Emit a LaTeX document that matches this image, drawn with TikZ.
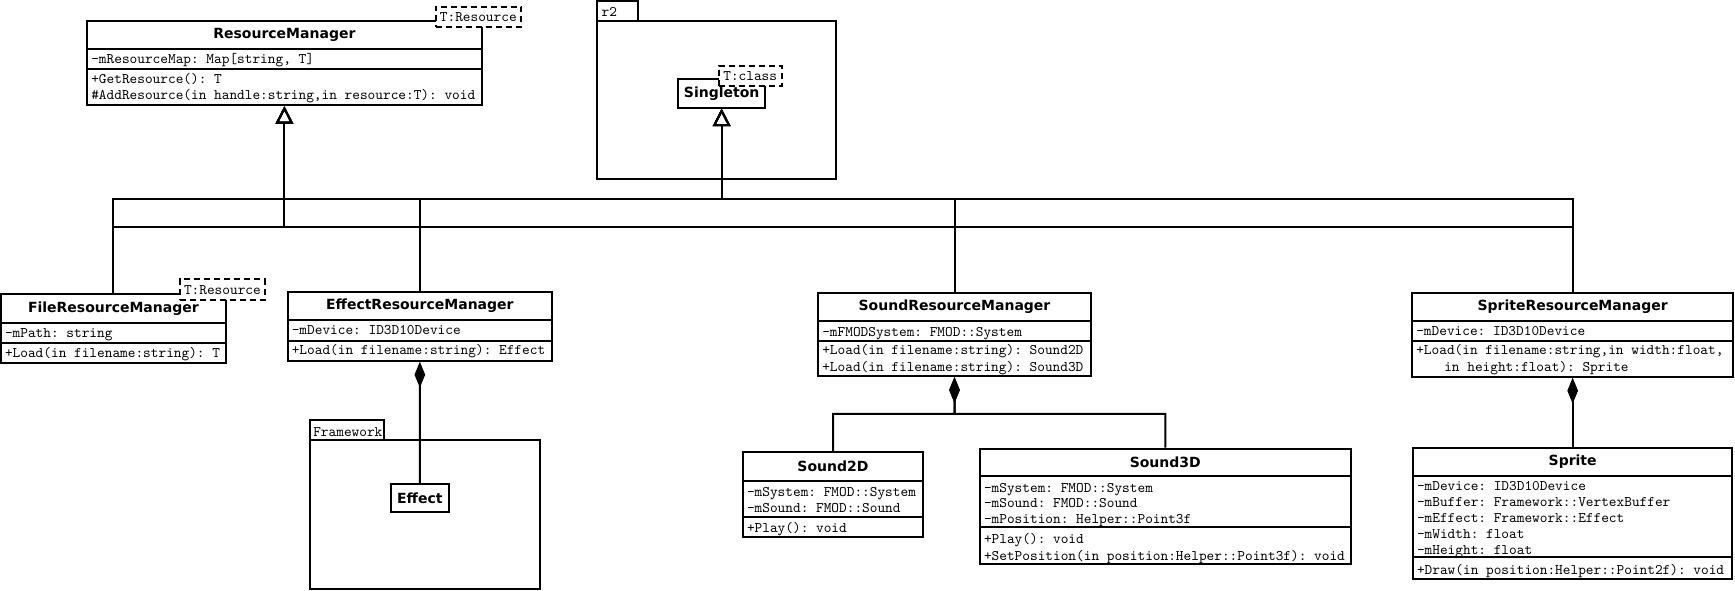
\documentclass[tikz,border=0pt]{standalone}
\usepackage{fontspec}
\usetikzlibrary{arrows.meta,fit}
\newfontfamily\titlefont{DejaVu Sans}
\setmonofont{Latin Modern Mono}
\begin{document}
\begin{tikzpicture}[x=0.75pt,y=-0.75pt,line width=1.5pt,
  cls/.style={draw,line width=1.5pt,inner sep=0pt,fill=white},
  pkg/.style={draw,line width=1.5pt,inner sep=0pt},
  ttl/.style={font={\titlefont\bfseries\fontsize{10.5}{12}\selectfont},inner sep=0pt},
  mono/.style={font={\ttfamily\fontsize{10.97}{12}\selectfont},inner sep=0pt,anchor=base west},
  tpl/.style={draw,dash pattern=on 4.5pt off 3pt,fill=white,line width=1.5pt,inner sep=0pt},
  tpltxt/.style={font={\ttfamily\fontsize{10.97}{12}\selectfont},inner sep=0pt},
  gen/.style={-{Triangle[open,length=13pt,width=13pt]},line width=1.5pt},
  comp/.style={{Diamond[length=19.5pt,width=8pt]}-,line width=1.5pt},
  sep/.style={line width=1.5pt}]
\useasboundingbox (0,0) rectangle (1735,591);

% ---------- packages ----------
\node[pkg,fit={(597.3,1)(637.7,20.7)}] (r2tab) {};
\node[pkg,fit={(597.3,20.7)(835.7,178.7)}] (r2) {};
\node[mono] (r2lbl) at (600.7,16.5) {r2};

\node[pkg,fit={(310,420)(384,440)}] (fwtab) {};
\node[pkg,fit={(310,440)(540,589.3)}] (fw) {};
\node[mono] (fwlbl) at (312.3,436) {Framework};

% ---------- ResourceManager ----------
\node[cls,fit={(87.3,21)(481.5,105.3)}] (rm) {};
\draw[sep] (87.3,49) -- (481.5,49);
\draw[sep] (87.3,69.3) -- (481.5,69.3);
\node[ttl] (rmt) at (284.4,35.3) {ResourceManager};
\node[mono] (rma1) at (90.3,64) {-mResourceMap: Map[string, T]};
\node[mono] (rmo1) at (90.3,83.3) {+GetResource(): T};
\node[mono] (rmo2) at (90.3,99.3) {\#AddResource(in handle:string,in resource:T): void};
\node[tpl,fit={(435.5,6.7)(521.2,26.7)}] (rmtp) {};
\node[tpltxt] (rmtpt) at (478.3,17) {T:Resource};

% ---------- Singleton ----------
\node[cls,fit={(678.3,79.3)(765,107.7)}] (st) {};
\node[ttl] (stt) at (721.65,93.7) {Singleton};
\node[tpl,fit={(718.7,65.7)(781.7,85.7)}] (sttp) {};
\node[tpltxt] (sttpt) at (750.2,76) {T:class};

% ---------- FileResourceManager ----------
\node[cls,fit={(1.2,294)(225.6,362.7)}] (file) {};
\draw[sep] (1.2,322.7) -- (225.6,322.7);
\draw[sep] (1.2,342.7) -- (225.6,342.7);
\node[ttl] (filet) at (113.4,308.3) {FileResourceManager};
\node[mono] (filea1) at (4,337.3) {-mPath: string};
\node[mono] (fileo1) at (4,357.3) {+Load(in filename:string): T};
\node[tpl,fit={(180,279.3)(264.8,300)}] (filetp) {};
\node[tpltxt] (filetpt) at (222.4,290) {T:Resource};

% ---------- EffectResourceManager ----------
\node[cls,fit={(287.8,292)(551.9,360.7)}] (effrm) {};
\draw[sep] (287.8,320) -- (551.9,320);
\draw[sep] (287.8,341.3) -- (551.9,341.3);
\node[ttl] (effrmt) at (419.85,306) {EffectResourceManager};
\node[mono] (effrma1) at (290.8,335) {-mDevice: ID3D10Device};
\node[mono] (effrmo1) at (290.8,355) {+Load(in filename:string): Effect};

% ---------- Effect ----------
\node[cls,fit={(391.2,484)(448.5,512.3)}] (effect) {};
\node[ttl] (effectt) at (419.85,498) {Effect};

% ---------- SoundResourceManager ----------
\node[cls,fit={(818.3,292.7)(1090.7,376)}] (soundrm) {};
\draw[sep] (818.3,320.7) -- (1090.7,320.7);
\draw[sep] (818.3,340.7) -- (1090.7,340.7);
\node[ttl] (soundrmt) at (954.5,306.7) {SoundResourceManager};
\node[mono] (soundrma1) at (821.3,336.3) {-mFMODSystem: FMOD::System};
\node[mono] (soundrmo1) at (821.3,354.7) {+Load(in filename:string): Sound2D};
\node[mono] (soundrmo2) at (821.3,371.7) {+Load(in filename:string): Sound3D};

% ---------- Sound2D ----------
\node[cls,fit={(743,452)(923,536.7)}] (s2d) {};
\draw[sep] (743,480.7) -- (923,480.7);
\draw[sep] (743,517) -- (923,517);
\node[ttl] (s2dt) at (833,466.3) {Sound2D};
\node[mono] (s2da1) at (746,496.3) {-mSystem: FMOD::System};
\node[mono] (s2da2) at (746,512) {-mSound: FMOD::Sound};
\node[mono] (s2do1) at (746,532) {+Play(): void};

% ---------- Sound3D ----------
\node[cls,fit={(980,448.7)(1350.5,564)}] (s3d) {};
\draw[sep] (980,475.7) -- (1350.5,475.7);
\draw[sep] (980,527.3) -- (1350.5,527.3);
\node[ttl] (s3dt) at (1165.25,462) {Sound3D};
\node[mono] (s3da1) at (983,492.3) {-mSystem: FMOD::System};
\node[mono] (s3da2) at (983,507.3) {-mSound: FMOD::Sound};
\node[mono] (s3da3) at (983,523.3) {-mPosition: Helper::Point3f};
\node[mono] (s3do1) at (983,543.7) {+Play(): void};
\node[mono] (s3do2) at (983,560) {+SetPosition(in position:Helper::Point3f): void};

% ---------- SpriteResourceManager ----------
\node[cls,fit={(1412.3,292.7)(1733,376.7)}] (sprrm) {};
\draw[sep] (1412.3,321) -- (1733,321);
\draw[sep] (1412.3,340.7) -- (1733,340.7);
\node[ttl] (sprrmt) at (1572.65,307) {SpriteResourceManager};
\node[mono] (sprrma1) at (1415.3,335.7) {-mDevice: ID3D10Device};
\node[mono] (sprrmo1) at (1415.3,354.7) {+Load(in filename:string,in width:float,};
\node[mono] (sprrmo2) at (1443.3,371.7) {in height:float): Sprite};

% ---------- Sprite ----------
\node[cls,fit={(1413,447.7)(1732.3,579.3)}] (spr) {};
\draw[sep] (1413,475.7) -- (1732.3,475.7);
\draw[sep] (1413,556.7) -- (1732.3,556.7);
\node[ttl] (sprt) at (1572.65,461.7) {Sprite};
\node[mono] (spra1) at (1416,490.7) {-mDevice: ID3D10Device};
\node[mono] (spra2) at (1416,506) {-mBuffer: Framework::VertexBuffer};
\node[mono] (spra3) at (1416,522) {-mEffect: Framework::Effect};
\node[mono] (spra4) at (1416,538.3) {-mWidth: float};
\node[mono] (spra5) at (1416,554.3) {-mHeight: float};
\node[mono] (spro1) at (1416,574.7) {+Draw(in position:Helper::Point2f): void};

% ---------- connectors ----------
\coordinate (rmbus) at (284.4,227.3);
\coordinate (stbus) at (721.65,199.3);
\coordinate (sbus) at (954.5,414);

\foreach \c in {file,effrm,soundrm,sprrm}{
  \draw[gen] (\c.north) |- (rmbus) -- (rm.south);
  \draw[gen] (\c.north) |- (stbus) -- (st.south);
}

\draw[comp] (effrm.south) -- (effect.north);
\draw[comp] (soundrm.south) -- (sbus) -| (s2d.north);
\draw[comp] (soundrm.south) -- (sbus) -| (s3d.north);
\draw[comp] (sprrm.south) -- (spr.north);
\end{tikzpicture}
\end{document}
